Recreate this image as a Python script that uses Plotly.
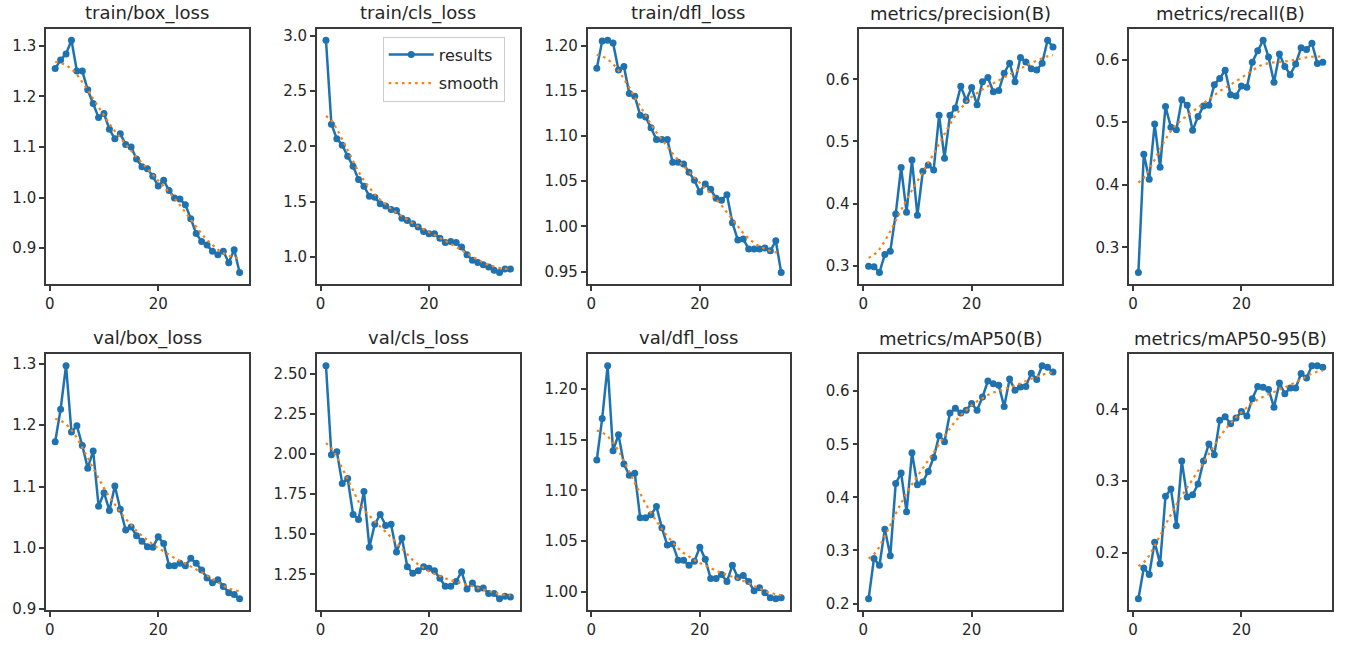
import numpy as np
import plotly.graph_objects as go

W, H = 1355, 652

epochs = list(range(1, 36))

titles = ["train/box_loss", "train/cls_loss", "train/dfl_loss",
          "metrics/precision(B)", "metrics/recall(B)",
          "val/box_loss", "val/cls_loss", "val/dfl_loss",
          "metrics/mAP50(B)", "metrics/mAP50-95(B)"]

train_box_loss = [1.255, 1.272, 1.284, 1.311, 1.250, 1.250, 1.213, 1.186, 1.158, 1.166,
                  1.135, 1.116, 1.126, 1.105, 1.100, 1.076, 1.061, 1.057, 1.042, 1.023,
                  1.034, 1.014, 0.999, 0.997, 0.986, 0.958, 0.929, 0.913, 0.906, 0.894,
                  0.887, 0.894, 0.871, 0.897, 0.852]
train_cls_loss = [2.96, 2.20, 2.07, 2.01, 1.91, 1.82, 1.70, 1.64, 1.55, 1.54,
                  1.48, 1.46, 1.43, 1.42, 1.35, 1.33, 1.30, 1.27, 1.23, 1.21,
                  1.21, 1.17, 1.13, 1.14, 1.13, 1.09, 1.02, 0.97, 0.95, 0.93,
                  0.91, 0.88, 0.86, 0.89, 0.89]
train_dfl_loss = [1.175, 1.205, 1.206, 1.203, 1.173, 1.177, 1.147, 1.144, 1.123, 1.121,
                  1.109, 1.096, 1.096, 1.096, 1.071, 1.071, 1.069, 1.060, 1.051, 1.038,
                  1.047, 1.041, 1.031, 1.029, 1.035, 1.004, 0.985, 0.986, 0.975, 0.975,
                  0.975, 0.976, 0.973, 0.984, 0.949]
precision = [0.299, 0.298, 0.289, 0.318, 0.323, 0.383, 0.458, 0.386, 0.470, 0.381,
             0.452, 0.462, 0.454, 0.542, 0.473, 0.542, 0.554, 0.589, 0.566, 0.587,
             0.559, 0.596, 0.603, 0.580, 0.582, 0.610, 0.626, 0.596, 0.635, 0.628,
             0.617, 0.615, 0.626, 0.663, 0.652]
recall = [0.260, 0.449, 0.409, 0.497, 0.428, 0.525, 0.492, 0.488, 0.536, 0.527,
          0.487, 0.509, 0.526, 0.527, 0.560, 0.570, 0.583, 0.544, 0.542, 0.558,
          0.556, 0.596, 0.614, 0.631, 0.604, 0.564, 0.609, 0.589, 0.576, 0.593,
          0.619, 0.616, 0.626, 0.594, 0.596]
val_box_loss = [1.173, 1.226, 1.297, 1.189, 1.199, 1.167, 1.130, 1.158, 1.068, 1.090,
                1.061, 1.101, 1.063, 1.029, 1.034, 1.020, 1.011, 1.002, 1.001, 1.018,
                1.007, 0.971, 0.971, 0.975, 0.971, 0.983, 0.975, 0.964, 0.951, 0.943,
                0.948, 0.937, 0.927, 0.924, 0.917]
val_cls_loss = [2.551, 1.995, 2.015, 1.817, 1.847, 1.623, 1.592, 1.766, 1.419, 1.562,
                1.623, 1.555, 1.562, 1.389, 1.476, 1.297, 1.256, 1.272, 1.297, 1.287,
                1.272, 1.226, 1.175, 1.175, 1.205, 1.266, 1.158, 1.195, 1.158, 1.164,
                1.130, 1.130, 1.097, 1.113, 1.109]
val_dfl_loss = [1.130, 1.171, 1.223, 1.139, 1.155, 1.126, 1.115, 1.117, 1.073, 1.073,
                1.076, 1.084, 1.063, 1.046, 1.047, 1.031, 1.031, 1.026, 1.030, 1.044,
                1.032, 1.013, 1.013, 1.017, 1.010, 1.026, 1.014, 1.016, 1.010, 1.001,
                1.004, 0.999, 0.994, 0.993, 0.994]
map50 = [0.209, 0.285, 0.272, 0.340, 0.290, 0.426, 0.446, 0.373, 0.484, 0.424,
         0.429, 0.449, 0.475, 0.516, 0.505, 0.559, 0.568, 0.559, 0.564, 0.577,
         0.564, 0.589, 0.619, 0.614, 0.611, 0.571, 0.623, 0.602, 0.608, 0.609,
         0.634, 0.622, 0.648, 0.645, 0.636]
map50_95 = [0.136, 0.179, 0.170, 0.215, 0.185, 0.279, 0.289, 0.238, 0.328, 0.278,
            0.281, 0.296, 0.328, 0.352, 0.337, 0.385, 0.390, 0.380, 0.388, 0.397,
            0.391, 0.415, 0.432, 0.431, 0.428, 0.403, 0.437, 0.422, 0.430, 0.430,
            0.450, 0.444, 0.461, 0.461, 0.459]

series = [train_box_loss, train_cls_loss, train_dfl_loss, precision, recall,
          val_box_loss, val_cls_loss, val_dfl_loss, map50, map50_95]

y_dticks = [0.1, 0.5, 0.05, 0.1, 0.1, 0.1, 0.25, 0.05, 0.1, 0.1]
y_formats = [".1f", ".1f", ".2f", ".1f", ".1f", ".1f", ".2f", ".2f", ".1f", ".1f"]


def gaussian_smooth(y, sigma=3.0, truncate=4.0):
    y = np.asarray(y, dtype=float)
    r = int(truncate * sigma + 0.5)
    k = np.exp(-0.5 * (np.arange(-r, r + 1) / sigma) ** 2)
    k /= k.sum()
    p = np.pad(y, r, mode="symmetric")
    return np.convolve(p, k, mode="valid")


col_left = [45, 316, 587, 859, 1129]
pw = 203
rows = [(28, 287), (358, 618)]

BLUE = "#1f72b0"
ORANGE = "#ff7f0e"
FONT = "DejaVu Sans"
TXT = "#262626"

fig = go.Figure()
annotations = []
layout = {}

for i, (title, y) in enumerate(zip(titles, series)):
    r, c = divmod(i, 5)
    n = i + 1
    xa = "x" if n == 1 else f"x{n}"
    ya = "y" if n == 1 else f"y{n}"
    sm = gaussian_smooth(y)
    fig.add_trace(go.Scatter(
        x=epochs, y=y, mode="lines+markers", name="results", legendgroup="results",
        line=dict(color=BLUE, width=2.5),
        marker=dict(color=BLUE, size=7, line=dict(width=0)),
        xaxis=xa, yaxis=ya, showlegend=(i == 0)))
    fig.add_trace(go.Scatter(
        x=epochs, y=sm, mode="lines", name="smooth", legendgroup="smooth",
        line=dict(color=ORANGE, width=2.2, dash="2.6px,4px"),
        xaxis=xa, yaxis=ya, showlegend=(i == 0)))

    lo = min(min(y), float(sm.min()))
    hi = max(max(y), float(sm.max()))
    pad = 0.05 * (hi - lo)
    xpad = 0.05 * (epochs[-1] - epochs[0])

    x0 = col_left[c] / W
    x1 = (col_left[c] + pw) / W
    top, bot = rows[r]
    y0 = 1 - bot / H
    y1 = 1 - top / H

    common = dict(showline=True, mirror=True, linecolor="#3a3a3a", linewidth=1.5,
                  ticks="outside", ticklen=5, tickwidth=1.5, tickcolor="#3a3a3a",
                  tickfont=dict(family=FONT, size=15, color=TXT),
                  showgrid=False, zeroline=False)
    layout["xaxis" if n == 1 else f"xaxis{n}"] = dict(
        domain=[x0, x1], anchor=ya, range=[epochs[0] - xpad, epochs[-1] + xpad],
        tick0=0, dtick=20, **common)
    layout["yaxis" if n == 1 else f"yaxis{n}"] = dict(
        domain=[y0, y1], anchor=xa, range=[lo - pad, hi + pad],
        tick0=0, dtick=y_dticks[i], tickformat=y_formats[i], **common)
    annotations.append(dict(
        text=title, x=(x0 + x1) / 2, y=y1, xref="paper", yref="paper",
        xanchor="center", yanchor="bottom", yshift=3, showarrow=False,
        font=dict(family=FONT, size=18, color=TXT)))

fig.update_layout(
    width=W, height=H,
    margin=dict(l=0, r=0, t=0, b=0),
    paper_bgcolor="white", plot_bgcolor="white",
    font=dict(family=FONT, size=15, color=TXT),
    annotations=annotations,
    legend=dict(x=382 / W, y=1 - 36 / H, xanchor="left", yanchor="top",
                bgcolor="rgba(255,255,255,0.85)", bordercolor="#cccccc", borderwidth=1,
                font=dict(family=FONT, size=16, color=TXT),
                itemwidth=45, tracegroupgap=5),
    **layout,
)

fig.write_html("out.html")
